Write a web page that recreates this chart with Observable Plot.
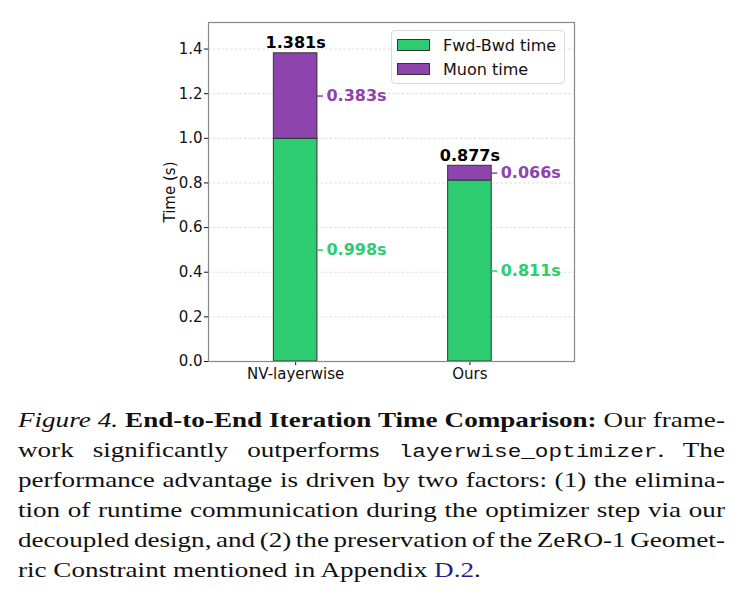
<!DOCTYPE html>
<html>
<head>
<meta charset="utf-8">
<script src="https://cdn.jsdelivr.net/npm/d3@7"></script>
<script src="https://cdn.jsdelivr.net/npm/@observablehq/plot@0.6"></script>
<style>
  html, body { margin: 0; padding: 0; background: #fff; }
  #wrap { position: relative; width: 739px; height: 599px; overflow: hidden; }
  #chart { position: absolute; left: 0; top: 0; }
  .legend {
    position: absolute; left: 391px; top: 30px; width: 172px; height: 52px;
    border: 1px solid #dadada; border-radius: 4px; background: rgba(255,255,255,0.8);
    font-family: "DejaVu Sans", sans-serif; font-size: 16px; color: #111;
  }
  .legend .row { position: absolute; left: 5px; height: 14px; display: flex; align-items: center; }
  .legend .sw { width: 33px; height: 12px; border: 1px solid #333; box-sizing: border-box; margin-right: 13px; }
  .caption {
    position: absolute; left: 18px; top: 405px; width: 548px;
    transform: scaleX(1.29); transform-origin: 0 0;
    font-family: "Liberation Serif", "Times New Roman", serif; font-size: 21px; line-height: 30px; color: #111;
  }
  .caption .ln { white-space: nowrap; height: 30px; }
  .caption code { font-family: "Liberation Mono", "DejaVu Sans Mono", monospace; font-size: 17.6px; }
  .caption .ref { color: #1f1f8f; }
</style>
</head>
<body>
<div id="wrap">
  <div id="chart"></div>
  <div class="legend">
    <div class="row" style="top:7px"><div class="sw" style="background:#2ecc71"></div><span id="lg0"></span></div>
    <div class="row" style="top:31px"><div class="sw" style="background:#8e44ad"></div><span id="lg1"></span></div>
  </div>
  <div class="caption" id="caption">
    <div class="ln"><i>Figure 4.</i> <b>End-to-End Iteration Time Comparison:</b> Our frame-</div>
    <div class="ln">work significantly outperforms <code>layerwise_optimizer</code>. The</div>
    <div class="ln">performance advantage is driven by two factors: (1) the elimina-</div>
    <div class="ln">tion of runtime communication during the optimizer step via our</div>
    <div class="ln">decoupled design, and (2) the preservation of the ZeRO-1 Geomet-</div>
    <div class="ln last">ric Constraint mentioned in Appendix <span class="ref">D.2</span>.</div>
  </div>
</div>
<script>
// Iteration time per method, split into forward/backward and optimizer (Muon) parts
const methods = ["NV-layerwise", "Ours"];
const fwdBwd = [0.998, 0.811];
const muon = [0.383, 0.066];
const totals = [1.381, 0.877];
const seriesNames = ["Fwd-Bwd time", "Muon time"];
const yTicks = [0, 0.2, 0.4, 0.6, 0.8, 1.0, 1.2, 1.4];

const green = "#2ecc71";
const purple = "#8e44ad";
const barWidth = 0.25;
const half = barWidth / 2;

const rows = methods.map((m, i) => ({
  i, method: m, fwd: fwdBwd[i], muon: muon[i], total: totals[i]
}));

document.getElementById("lg0").textContent = seriesNames[0];
document.getElementById("lg1").textContent = seriesNames[1];

const font = "DejaVu Sans, sans-serif";

const chart = Plot.plot({
  width: 739,
  height: 390,
  marginLeft: 208,
  marginRight: 165,
  marginTop: 22,
  marginBottom: 29,
  style: { fontFamily: font, fontSize: "15px", color: "#111", background: "transparent" },
  x: { domain: [-0.5, 1.6], ticks: [0, 1], tickFormat: (d) => methods[d], tickSize: 4, tickPadding: 3, label: null },
  y: { domain: [0, 1.519], ticks: yTicks, tickFormat: (d) => d.toFixed(1), tickSize: 4, tickPadding: 2,
       label: "Time (s)", labelAnchor: "center", labelArrow: "none", labelOffset: 44 },
  marks: [
    Plot.gridY(yTicks, { stroke: "#c4c4c4", strokeOpacity: 0.8, strokeDasharray: "2.5,2", strokeWidth: 0.7 }),
    // stacked segments
    Plot.rectY(rows, { x1: (d) => d.i - half, x2: (d) => d.i + half, y1: 0, y2: (d) => d.fwd,
      fill: green, stroke: "#333", strokeWidth: 1 }),
    Plot.rectY(rows, { x1: (d) => d.i - half, x2: (d) => d.i + half, y1: (d) => d.fwd, y2: (d) => d.fwd + d.muon,
      fill: purple, stroke: "#333", strokeWidth: 1 }),
    // totals above each bar
    Plot.text(rows, { x: "i", y: "total", text: (d) => d.total.toFixed(3) + "s", lineAnchor: "bottom", dy: -5,
      fontWeight: "bold", fontSize: 16, fill: "#000" }),
    // segment leaders and values
    Plot.ruleY(rows, { x1: (d) => d.i + half, x2: (d) => d.i + half + 0.035, y: (d) => d.fwd / 2, stroke: green, strokeWidth: 1.5 }),
    Plot.ruleY(rows, { x1: (d) => d.i + half, x2: (d) => d.i + half + 0.035, y: (d) => d.fwd + d.muon / 2, stroke: purple, strokeWidth: 1.5 }),
    Plot.text(rows, { x: (d) => d.i + half, y: (d) => d.fwd / 2, text: (d) => d.fwd.toFixed(3) + "s",
      textAnchor: "start", dx: 9, fontWeight: "bold", fontSize: 16, fill: green }),
    Plot.text(rows, { x: (d) => d.i + half, y: (d) => d.fwd + d.muon / 2, text: (d) => d.muon.toFixed(3) + "s",
      textAnchor: "start", dx: 9, fontWeight: "bold", fontSize: 16, fill: purple }),
    Plot.frame({ stroke: "#888", strokeWidth: 1.2 })
  ]
});
document.getElementById("chart").appendChild(chart);

// Justify caption lines (all but the last) by spreading word spacing across the column
const caption = document.getElementById("caption");
const colWidth = caption.clientWidth;
const stretch = 1.29;
caption.querySelectorAll(".ln:not(.last)").forEach((ln) => {
  const span = document.createElement("span");
  while (ln.firstChild) span.appendChild(ln.firstChild);
  ln.appendChild(span);
  const natural = span.getBoundingClientRect().width / stretch;
  const gaps = (ln.textContent.match(/ /g) || []).length;
  if (gaps > 0) ln.style.wordSpacing = ((colWidth - natural) / gaps) + "px";
});
</script>
</body>
</html>
